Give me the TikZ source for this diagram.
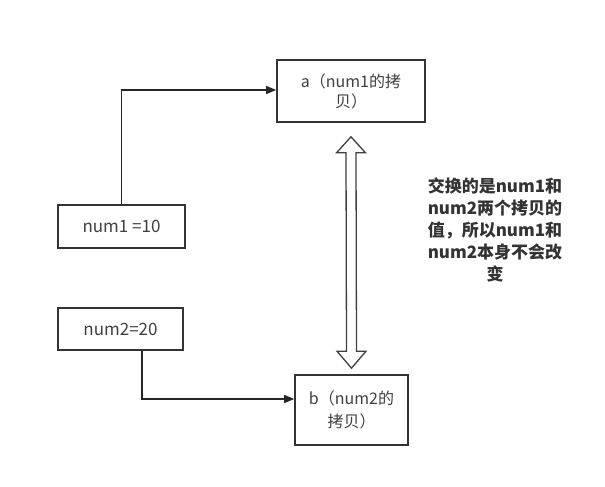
\documentclass[tikz,border=0pt]{standalone}
\usepackage{fontspec}
\newfontfamily\cjk{Noto Sans CJK SC}
\usetikzlibrary{arrows.meta,calc}
\begin{document}
\begin{tikzpicture}[x=1pt,y=-1pt,
  box/.style={draw=black!80, line width=1.6pt, fill=white, inner sep=0pt,
    font=\cjk\fontsize{16}{20}\selectfont, text=black!75, align=center},
  conn/.style={draw=black!85, line width=1.3pt, -{Triangle[length=10pt,width=8pt]}},
  dbl/.style={draw=black!75, line width=1.3pt, fill=white, line join=miter},
  note/.style={font=\cjk\bfseries\fontsize{17}{22}\selectfont, align=center, text=black!80}]
\useasboundingbox (0,0) rectangle (605,487);
\node[box, minimum width=148pt, minimum height=62pt] (a) at (351,91) {a（num1的拷\\贝）};
\node[box, minimum width=127pt, minimum height=43pt, font=\cjk\fontsize{17}{20}\selectfont] (n1) at (121.5,226.5) {num1 =10};
\node[box, minimum width=125pt, minimum height=42pt, font=\cjk\fontsize{17}{20}\selectfont] (n2) at (120.5,329) {num2=20};
\node[box, minimum width=113pt, minimum height=70pt, font=\cjk\fontsize{16}{23}\selectfont] (b) at (351.5,410) {b（num2的\\拷贝）};
\draw[conn] (n1.north) |- ([yshift=1pt]a.west);
\draw[conn] ([xshift=21.5pt]n2.south) |- ([yshift=11pt]b.west);
\coordinate (top) at ([yshift=-14pt]a.south);
\coordinate (bot) at ([yshift=6pt]b.north);
\draw[dbl] (top) -- ++(14.5,16) -- ++(-9.5,0) -- ($(bot)+(5,-17)$) -- ++(9.5,0) -- (bot)
  -- ++(-14.5,-17) -- ++(9.5,0) -- ($(top)+(-5,16)$) -- ++(-9.5,0) -- cycle;
\node[note] (t) at (495,230) {交换的是num1和\\num2两个拷贝的\\值，所以num1和\\num2本身不会改\\变};
\end{tikzpicture}
\end{document}
